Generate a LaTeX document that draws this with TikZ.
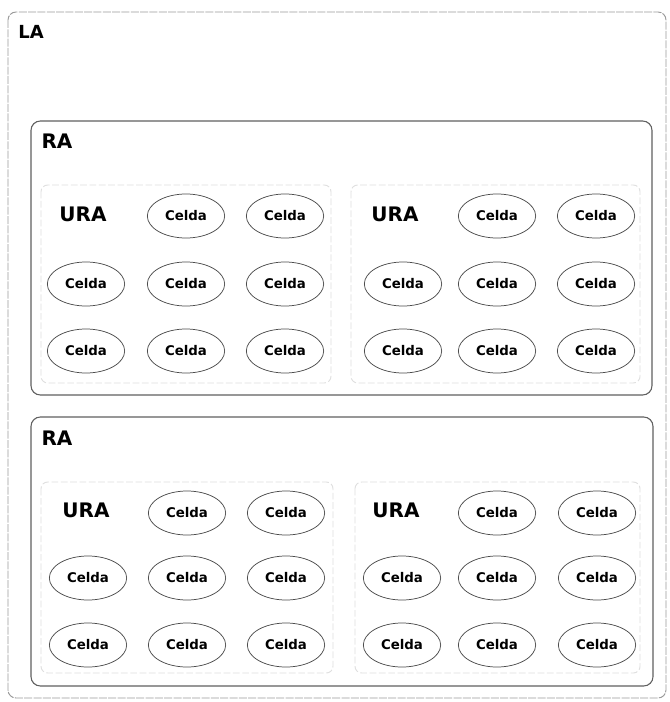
\documentclass[tikz,border=0pt]{standalone}
\usepackage{fontspec}
\setmainfont{DejaVu Sans}
\usetikzlibrary{shapes.geometric}
\begin{document}
\begin{tikzpicture}[x=0.75pt,y=-0.75pt,
  areabox/.style={draw=gray!75!black,line width=0.8pt,rounded corners=7pt},
  outerbox/.style={draw=gray!80,line width=0.7pt,dash pattern=on 6pt off 1pt,rounded corners=6pt},
  urabox/.style={draw=gray!25,line width=0.7pt,dash pattern=on 5pt off 2pt,rounded corners=5pt},
  celda/.style={ellipse,draw=gray!60!black,line width=0.55pt,minimum width=58pt,minimum height=33pt,inner sep=0pt,font=\fontsize{10}{11}\selectfont\bfseries},
  biglabel/.style={font=\fontsize{15}{16}\selectfont\bfseries,inner sep=0pt},
  lalabel/.style={font=\fontsize{13.5}{14}\selectfont\bfseries,inner sep=0pt}]
\useasboundingbox (0,0) rectangle (669,702);
\fill[white] (0,0) rectangle (669,702);

% outermost location area
\draw[outerbox] (8,12) rectangle (666,698);
\node[lalabel] (la) at (31,32) {LA};

% routing areas
\draw[areabox] (31,121) rectangle (652,395);
\node[biglabel] (ra1) at (57,141) {RA};
\draw[areabox] (31,417) rectangle (653,686);
\node[biglabel] (ra2) at (57,438) {RA};

% UTRAN registration areas
\draw[urabox] (41,185) rectangle (331,383);
\draw[urabox] (351,185) rectangle (640,383);
\draw[urabox] (41,482) rectangle (333,673);
\draw[urabox] (355,482) rectangle (640,673);

\node[biglabel] (ura1) at (83,214) {URA};
\node[biglabel] (ura2) at (395,214) {URA};
\node[biglabel] (ura3) at (86,510) {URA};
\node[biglabel] (ura4) at (396,510) {URA};

% cells, upper routing area
\foreach \r/\y in {0/216,1/284,2/351}{
  \foreach \c/\x in {0/86,1/186,2/285}{
    \ifnum\r\c=00\else\node[celda] (ca\r\c) at (\x,\y) {Celda};\fi
  }
  \foreach \c/\x in {0/403,1/497,2/596}{
    \ifnum\r\c=00\else\node[celda] (cb\r\c) at (\x,\y) {Celda};\fi
  }
}
% cells, lower routing area
\foreach \r/\y in {0/513,1/578,2/645}{
  \foreach \c/\x in {0/88,1/187,2/286}{
    \ifnum\r\c=00\else\node[celda] (cc\r\c) at (\x,\y) {Celda};\fi
  }
  \foreach \c/\x in {0/402,1/497,2/597}{
    \ifnum\r\c=00\else\node[celda] (cd\r\c) at (\x,\y) {Celda};\fi
  }
}
\end{tikzpicture}
\end{document}
